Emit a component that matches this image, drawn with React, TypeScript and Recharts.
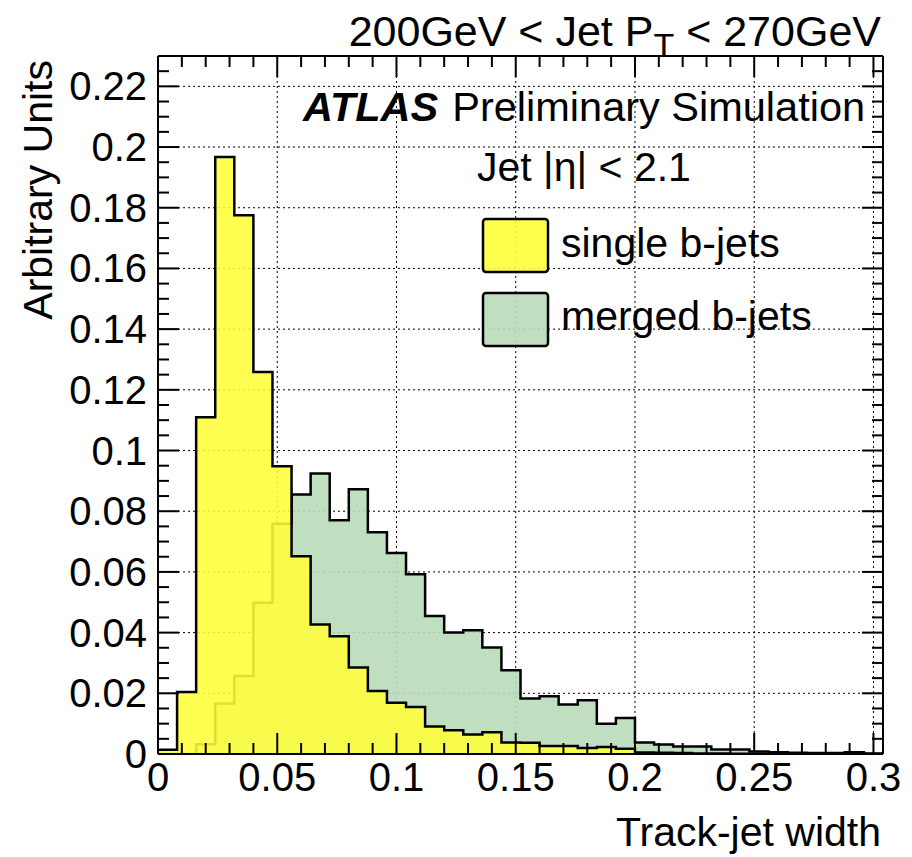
import React from 'react';
import { ComposedChart, Area, XAxis, YAxis, CartesianGrid, Legend } from 'recharts';

const FONT = '"Liberation Sans", Arial, Helvetica, sans-serif';

// lower bin edges (bin width 0.008) plus the final upper edge
const binEdges = [
  0, 0.008, 0.016, 0.024, 0.032, 0.04, 0.048, 0.056, 0.064, 0.072,
  0.08, 0.088, 0.096, 0.104, 0.112, 0.12, 0.128, 0.136, 0.144, 0.152,
  0.16, 0.168, 0.176, 0.184, 0.192, 0.2, 0.208, 0.216, 0.224, 0.232,
  0.24, 0.248, 0.256, 0.264, 0.272, 0.28, 0.288, 0.296, 0.304,
];

const singleBJets = [
  0.0014, 0.0204, 0.111, 0.1967, 0.1775, 0.1259, 0.0948, 0.0652, 0.0427, 0.0388,
  0.0285, 0.0208, 0.0169, 0.0155, 0.0091, 0.0078, 0.0064, 0.0072, 0.0038, 0.0037,
  0.0026, 0.0026, 0.002, 0.0023, 0.0017, 0.0005, 0.0004, 0.0003, 0.0002, 0.0002,
  0.0001, 0.0001, 0.0001, 0.0001, 0.0, 0.0, 0.0001, 0.0,
];

const mergedBJets = [
  0.0, 0.0, 0.0032, 0.0166, 0.0257, 0.0498, 0.0759, 0.0855, 0.0924, 0.077,
  0.0872, 0.0731, 0.0662, 0.0592, 0.0455, 0.04, 0.0408, 0.0351, 0.0276, 0.0183,
  0.019, 0.0163, 0.0177, 0.01, 0.0119, 0.0038, 0.0031, 0.0025, 0.0025, 0.0015,
  0.0015, 0.0008, 0.0006, 0.0004, 0.0003, 0.0003, 0.0006, 0.0002,
];

const seriesNames = ['single b-jets', 'merged b-jets'];

const xMajorTicks = [0, 0.05, 0.1, 0.15, 0.2, 0.25, 0.3];
const xAllTicks = [
  0, 0.01, 0.02, 0.03, 0.04, 0.05, 0.06, 0.07, 0.08, 0.09, 0.1, 0.11, 0.12, 0.13, 0.14, 0.15,
  0.16, 0.17, 0.18, 0.19, 0.2, 0.21, 0.22, 0.23, 0.24, 0.25, 0.26, 0.27, 0.28, 0.29, 0.3,
];
const yMajorTicks = [0, 0.02, 0.04, 0.06, 0.08, 0.1, 0.12, 0.14, 0.16, 0.18, 0.2, 0.22];
const yAllTicks = [
  0, 0.005, 0.01, 0.015, 0.02, 0.025, 0.03, 0.035, 0.04, 0.045, 0.05, 0.055, 0.06, 0.065,
  0.07, 0.075, 0.08, 0.085, 0.09, 0.095, 0.1, 0.105, 0.11, 0.115, 0.12, 0.125, 0.13, 0.135,
  0.14, 0.145, 0.15, 0.155, 0.16, 0.165, 0.17, 0.175, 0.18, 0.185, 0.19, 0.195, 0.2, 0.205,
  0.21, 0.215, 0.22, 0.225,
];

const YELLOW = '#ffff3a';
const GREEN = '#b9dcb9';

const data = binEdges.map((x, i) => {
  const k = Math.min(i, singleBJets.length - 1);
  return { x, single: singleBJets[k], merged: mergedBJets[k] };
});

const isIn = (v: number, list: number[]) => list.some((t) => Math.abs(t - v) < 1e-9);
const fmt = (v: number) => String(parseFloat(v.toFixed(4)));

const LeftTick = (props: any) => {
  const { x, y, payload } = props;
  const major = isIn(payload.value, yMajorTicks);
  return (
    <g>
      <line x1={x} x2={x + (major ? 21 : 11)} y1={y} y2={y} stroke="#000" strokeWidth={2} />
      {major && (
        <text x={x - 11} y={y + 14} textAnchor="end" fontSize={40} fontFamily={FONT} fill="#000">
          {fmt(payload.value)}
        </text>
      )}
    </g>
  );
};

const RightTick = (props: any) => {
  const { x, y, payload } = props;
  const major = isIn(payload.value, yMajorTicks);
  return <line x1={x} x2={x - (major ? 21 : 11)} y1={y} y2={y} stroke="#000" strokeWidth={2} />;
};

const BottomTick = (props: any) => {
  const { x, y, payload } = props;
  const major = isIn(payload.value, xMajorTicks);
  return (
    <g>
      <line x1={x} x2={x} y1={y} y2={y - (major ? 21 : 11)} stroke="#000" strokeWidth={2} />
      {major && (
        <text x={x} y={y + 37} textAnchor="middle" fontSize={40} fontFamily={FONT} fill="#000">
          {fmt(payload.value)}
        </text>
      )}
    </g>
  );
};

const TopTick = (props: any) => {
  const { x, y, payload } = props;
  const major = isIn(payload.value, xMajorTicks);
  return <line x1={x} x2={x} y1={y} y2={y + (major ? 21 : 11)} stroke="#000" strokeWidth={2} />;
};

const LegendBox = () => (
  <svg width={360} height={140} style={{ overflow: 'visible' }}>
    <rect x={3} y={4} width={65} height={53} rx={3} fill={YELLOW} fillOpacity={0.9} stroke="#000" strokeWidth={2.5} />
    <text x={81} y={42} fontSize={41} fontFamily={FONT} fill="#000">{seriesNames[0]}</text>
    <rect x={3} y={78} width={65} height={53} rx={3} fill={GREEN} fillOpacity={0.9} stroke="#000" strokeWidth={2.5} />
    <text x={81} y={115} fontSize={41} fontFamily={FONT} fill="#000">{seriesNames[1]}</text>
  </svg>
);

export default function App() {
  return (
    <div style={{ position: 'absolute', left: 0, top: 0, width: 912, height: 857, background: '#fff' }}>
      <ComposedChart width={912} height={857} data={data} margin={{ top: 0, right: 0, bottom: 0, left: 0 }}>
        <CartesianGrid
          xAxisId="bottom"
          yAxisId="left"
          horizontalValues={yMajorTicks.slice(1)}
          verticalValues={xMajorTicks.slice(1)}
          stroke="#000"
          strokeWidth={1}
          strokeDasharray="2 3"
        />
        <XAxis
          xAxisId="bottom"
          dataKey="x"
          type="number"
          domain={[0, 0.304]}
          allowDataOverflow
          ticks={xAllTicks}
          interval={0}
          tick={<BottomTick />}
          tickLine={false}
          tickSize={0}
          tickMargin={0}
          height={103}
          axisLine={{ stroke: '#000', strokeWidth: 2 }}
        />
        <XAxis
          xAxisId="top"
          orientation="top"
          dataKey="x"
          type="number"
          domain={[0, 0.304]}
          allowDataOverflow
          ticks={xAllTicks}
          interval={0}
          tick={<TopTick />}
          tickLine={false}
          tickSize={0}
          tickMargin={0}
          height={56}
          axisLine={{ stroke: '#000', strokeWidth: 2 }}
        />
        <YAxis
          yAxisId="left"
          type="number"
          domain={[0, 0.23]}
          allowDataOverflow
          ticks={yAllTicks}
          interval={0}
          tick={<LeftTick />}
          tickLine={false}
          tickSize={0}
          tickMargin={0}
          width={158}
          axisLine={{ stroke: '#000', strokeWidth: 2 }}
        />
        <YAxis
          yAxisId="right"
          orientation="right"
          type="number"
          domain={[0, 0.23]}
          allowDataOverflow
          ticks={yAllTicks}
          interval={0}
          tick={<RightTick />}
          tickLine={false}
          tickSize={0}
          tickMargin={0}
          width={29}
          axisLine={{ stroke: '#000', strokeWidth: 2 }}
        />
        <Area
          xAxisId="bottom"
          yAxisId="left"
          type="stepAfter"
          dataKey="merged"
          name={seriesNames[1]}
          stroke="#000"
          strokeWidth={2.5}
          fill={GREEN}
          fillOpacity={0.9}
          dot={false}
          activeDot={false}
          isAnimationActive={false}
        />
        <Area
          xAxisId="bottom"
          yAxisId="left"
          type="stepAfter"
          dataKey="single"
          name={seriesNames[0]}
          stroke="#000"
          strokeWidth={2.5}
          fill={YELLOW}
          fillOpacity={0.88}
          dot={false}
          activeDot={false}
          isAnimationActive={false}
        />
        <Legend
          layout="vertical"
          verticalAlign="middle"
          align="center"
          content={() => <LegendBox />}
          wrapperStyle={{ position: 'absolute', left: 480, top: 215, width: 360, height: 140 }}
        />
      </ComposedChart>
      <svg
        width={912}
        height={857}
        style={{ position: 'absolute', left: 0, top: 0, pointerEvents: 'none' }}
      >
        <text x={881} y={46} textAnchor="end" fontSize={43} fontFamily={FONT} fill="#000">
          200GeV &lt; Jet P
          <tspan fontSize={34} dy={11}>T</tspan>
          <tspan dy={-11}> &lt; 270GeV</tspan>
        </text>
        <text x={303} y={121} fontSize={41.5} fontFamily={FONT} fill="#000">
          <tspan fontWeight="bold" fontStyle="italic">ATLAS</tspan>
          <tspan dx={14}>Preliminary Simulation</tspan>
        </text>
        <text x={477} y={181} fontSize={41} fontFamily={FONT} fill="#000">
          Jet |η| &lt; 2.1
        </text>
        <text
          x={52}
          y={60}
          textAnchor="end"
          transform="rotate(-90 52 60)"
          fontSize={41}
          fontFamily={FONT}
          fill="#000"
        >
          Arbitrary Units
        </text>
        <text x={881} y={846} textAnchor="end" fontSize={41} fontFamily={FONT} fill="#000">
          Track-jet width
        </text>
      </svg>
    </div>
  );
}
